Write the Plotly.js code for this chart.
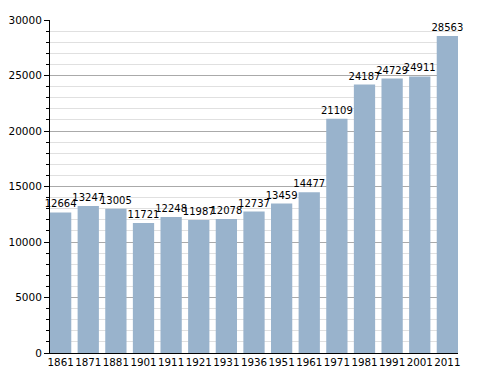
<!DOCTYPE html>
<html><head><meta charset="utf-8">
<script src="https://cdn.plot.ly/plotly-3.0.1.min.js"></script>
<style>html,body{margin:0;padding:0;background:#fff}#c{width:488px;height:373px}</style>
</head><body><div id="c"></div>
<script>
const years = ['1861','1871','1881','1901','1911','1921','1931','1936','1951','1961','1971','1981','1991','2001','2011'];
const population = [12664,13247,13005,11721,12248,11987,12078,12737,13459,14477,21109,24187,24729,24911,28563];
const yTicks = [0,5000,10000,15000,20000,25000,30000];
const gap = 0.23;

Plotly.newPlot('c', [{
  type: 'bar', x: years, y: population,
  marker: {color: '#99b3cc'},
  text: population.map(String), textposition: 'outside', cliponaxis: false, constraintext: 'none',
  textfont: {family: 'DejaVu Sans', size: 10, color: '#000'},
  hoverinfo: 'none'
}], {
  width: 488, height: 373,
  margin: {l: 50, r: 30, t: 20, b: 20, pad: 0},
  paper_bgcolor: '#fff', plot_bgcolor: '#fff',
  bargap: gap, showlegend: false,
  font: {family: 'DejaVu Sans', size: 10, color: '#000'},
  xaxis: {type: 'category', range: [-0.5 + gap / 2, years.length - 0.5 - gap / 2],
          showline: true, linecolor: '#000', linewidth: 1, ticks: '', showgrid: false,
          tickangle: 0, automargin: false,
          tickfont: {family: 'DejaVu Sans', size: 10.3, color: '#000'}, fixedrange: true},
  yaxis: {range: [0, 30000], tickvals: yTicks, ticktext: yTicks.map(String),
          showline: true, linecolor: '#000', linewidth: 1, ticks: 'outside', ticklen: 5, tickcolor: '#000',
          gridcolor: '#aaaaaa', gridwidth: 1, zeroline: false, automargin: false,
          minor: {dtick: 1000, ticks: 'outside', ticklen: 3, tickcolor: '#000', showgrid: true, gridcolor: '#e0e0e0', gridwidth: 1},
          tickfont: {family: 'DejaVu Sans', size: 10.5, color: '#000'}, fixedrange: true}
}, {staticPlot: true});
</script></body></html>
